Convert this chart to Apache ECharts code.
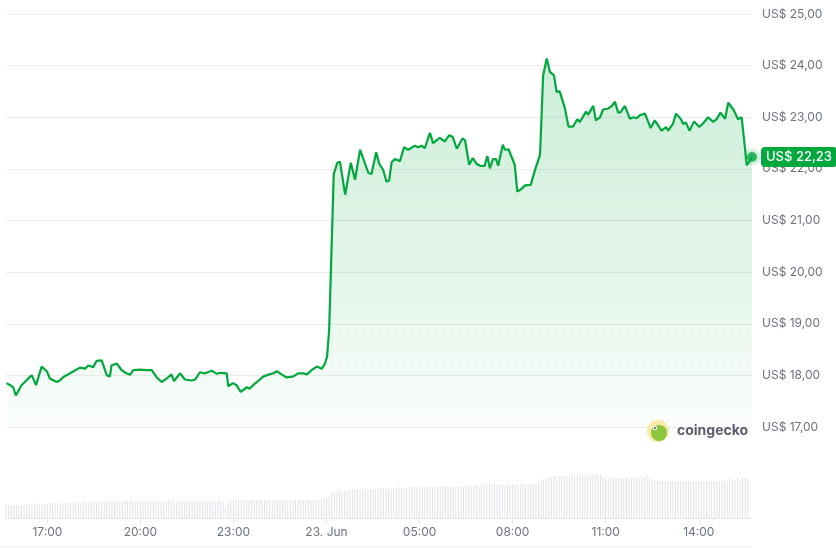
<!DOCTYPE html>
<html>
<head>
<meta charset="utf-8">
<script src="https://cdn.jsdelivr.net/npm/echarts@6/dist/echarts.min.js"></script>
<style>
  html, body { margin: 0; padding: 0; background: #ffffff; }
  #chart { width: 836px; height: 548px; }
</style>
</head>
<body>
<div id="chart"></div>
<script>
// ---- Data ----
const priceTimes = [
  '15:41','15:48','15:54','15:59','16:10','16:26','16:30','16:38','16:49','16:59',
  '17:05','17:18','17:24','17:31','17:44','18:03','18:13','18:19','18:29','18:35',
  '18:45','18:55','19:01','19:04','19:14','19:24','19:33','19:40','19:46','19:59',
  '20:12','20:22','20:31','20:41','20:51','21:00','21:05','21:17','21:26','21:39',
  '21:46','21:55','22:05','22:18','22:28','22:34','22:47','22:50','22:59','23:06',
  '23:14','23:26','23:31','23:38','23:51','23:58','00:04','00:17','00:24','00:33',
  '00:43','00:56','01:05','01:15','01:22','01:31','01:41','01:51','01:57','02:01',
  '02:05','02:12','02:14','02:21','02:26','02:36','02:47','02:55','03:05','03:21',
  '03:27','03:36','03:42','03:50','03:56','04:01','04:06','04:12','04:22','04:30',
  '04:38','04:51','04:57','05:04','05:10','05:20','05:26','05:39','05:49','05:57',
  '06:04','06:12','06:23','06:28','06:36','06:43','06:50','06:57','07:06','07:11',
  '07:16','07:22','07:28','07:32','07:41','07:45','07:52','08:04','08:09','08:17',
  '08:24','08:35','08:43','08:53','08:59','09:06','09:12','09:20','09:25','09:31',
  '09:41','09:48','09:57','10:05','10:10','10:22','10:26','10:36','10:41','10:49',
  '10:55','11:05','11:12','11:18','11:24','11:29','11:37','11:47','11:53','12:00',
  '12:06','12:16','12:27','12:35','12:48','12:57','13:01','13:10','13:16','13:25',
  '13:30','13:35','13:42','13:51','14:01','14:09','14:18','14:28','14:35','14:42',
  '14:51','14:57','15:07','15:16','15:23','15:33','15:43'
];
const priceValues = [
  17.85,17.81,17.77,17.61,17.81,17.97,18.00,17.81,18.17,18.08,
  17.94,17.87,17.90,17.97,18.04,18.15,18.13,18.19,18.16,18.28,
  18.29,18.00,17.98,18.19,18.23,18.10,18.04,18.01,18.10,18.11,
  18.10,18.10,17.97,17.87,17.94,18.02,17.89,18.04,17.92,17.90,
  17.92,18.06,18.04,18.09,18.03,18.05,18.04,17.79,17.85,17.81,
  17.68,17.77,17.74,17.81,17.92,17.98,18.00,18.04,18.08,18.02,
  17.96,17.98,18.04,18.04,18.02,18.10,18.17,18.13,18.23,18.36,
  18.87,21.22,21.90,22.12,22.14,21.50,22.12,21.79,22.37,21.92,
  21.90,22.32,22.10,21.97,21.75,21.77,22.13,22.19,22.15,22.42,
  22.37,22.45,22.42,22.45,22.40,22.70,22.50,22.60,22.53,22.65,
  22.62,22.39,22.59,22.55,22.08,22.21,22.10,22.06,22.06,22.25,
  22.01,22.19,22.19,22.06,22.47,22.37,22.38,22.08,21.56,21.61,
  21.68,21.69,21.97,22.27,23.81,24.14,23.88,23.81,23.49,23.50,
  23.18,22.82,22.82,22.96,22.91,23.11,23.05,23.22,22.94,23.00,
  23.15,23.17,23.22,23.30,23.09,23.10,23.22,22.97,23.00,22.98,
  23.04,23.07,22.79,22.94,22.74,22.81,22.74,22.87,23.07,22.97,
  22.87,22.90,22.74,22.92,22.81,22.89,23.00,22.91,22.97,23.09,
  22.97,23.28,23.15,22.96,23.00,22.07,22.23
];
// relative volume, one bar per 5 minutes starting 22 Jun 15:40
const volumeValues = [
  13,13,13,13,14,13,13,13,14,14,13,14,
  14,15,14,14,14,15,15,15,15,15,14,15,
  15,15,15,15,16,16,16,16,16,16,16,16,
  16,16,17,17,17,17,17,17,17,17,17,17,
  17,17,17,17,17,17,17,17,17,17,17,17,
  17,17,17,18,17,17,17,17,17,17,17,17,
  17,17,17,17,17,17,17,17,17,17,17,17,
  17,10,17,18,18,18,18,18,18,18,18,18,
  18,18,18,18,18,18,18,18,18,18,18,18,
  18,18,18,18,18,18,18,18,18,18,18,18,
  18,18,18,19,20,22,25,26,26,27,27,27,
  28,28,28,29,29,29,29,30,29,29,29,29,
  29,30,30,29,30,29,30,30,31,30,30,30,
  31,31,31,31,32,31,31,31,31,31,31,31,
  31,32,32,31,31,31,32,31,31,31,32,32,
  32,32,33,32,33,33,34,34,33,34,33,34,
  34,33,34,34,34,33,34,34,34,33,34,34,
  34,34,35,37,39,40,41,41,42,41,42,42,
  42,43,42,43,41,43,42,43,43,42,43,43,
  43,43,43,40,40,40,40,40,40,40,40,40,
  40,40,40,40,40,40,40,40,43,40,38,37,
  37,37,37,37,37,37,37,37,37,37,37,37,
  37,37,37,37,37,37,37,37,37,37,37,37,
  37,37,37,38,40,38,38,40,38,40,40,40
];
const xTickTimes = ['17:00','20:00','23:00','02:00','05:00','08:00','11:00','14:00'];
const xTickLabels = ['17:00','20:00','23:00','23. Jun','05:00','08:00','11:00','14:00'];
const yTicks = [17, 18, 19, 20, 21, 22, 23, 24, 25];
const currentPriceLabel = 'US$ 22,23';
const watermark = 'coingecko';

// ---- helpers ----
function toStamps(list) {
  let day = 22, prev = -1;
  return list.map(function (s) {
    const p = s.split(':').map(Number);
    const mins = p[0] * 60 + p[1];
    if (mins < prev) day++;
    prev = mins;
    return Date.UTC(2024, 5, day, p[0], p[1]);
  });
}
const priceStamps = toStamps(priceTimes);
const tickStamps = toStamps(xTickTimes);
const START = Date.UTC(2024, 5, 22, 15, 40);
const END = priceStamps[priceStamps.length - 1];
const FIVE_MIN = 5 * 60 * 1000;
const priceData = priceStamps.map((t, i) => [t, priceValues[i]]);
const volumeData = volumeValues.map((v, i) => [START + i * FIVE_MIN, v]);
const lastPoint = priceData[priceData.length - 1];

const GREEN = '#00a83e';
const FONT = 'Inter, Roboto, sans-serif';
const fmtPrice = v => 'US$ ' + v.toFixed(2).replace('.', ',');

// dotted texture for the area
const dotCanvas = document.createElement('canvas');
dotCanvas.width = 8; dotCanvas.height = 8;
(function () {
  const c = dotCanvas.getContext('2d');
  c.fillStyle = 'rgba(0,150,60,0.07)';
  c.beginPath(); c.arc(4, 4, 1.4, 0, Math.PI * 2); c.fill();
})();

const chart = echarts.init(document.getElementById('chart'), null, { renderer: 'canvas' });
chart.setOption({
  animation: false,
  backgroundColor: '#ffffff',
  textStyle: { fontFamily: FONT },
  grid: [
    { left: 6, right: 84, top: 14, bottom: 121 },
    { left: 6, right: 84, top: 458, bottom: 30 }
  ],
  xAxis: [
    { type: 'value', gridIndex: 0, min: START, max: END, show: false, scale: true },
    {
      type: 'value', gridIndex: 1, min: START, max: END, scale: true,
      axisLine: { show: true, lineStyle: { color: '#e6e8ec', width: 1 } },
      axisTick: { show: true, length: 6, lineStyle: { color: '#e6e8ec' }, customValues: tickStamps },
      axisLabel: {
        customValues: tickStamps,
        color: '#6b7280', fontSize: 12, fontFamily: FONT, margin: 8,
        formatter: function (v) {
          const idx = tickStamps.indexOf(v);
          return idx >= 0 ? xTickLabels[idx] : '';
        }
      },
      splitLine: { show: false }
    }
  ],
  yAxis: [
    {
      type: 'value', gridIndex: 0, position: 'right', min: yTicks[0], max: yTicks[yTicks.length - 1], interval: 1,
      axisLine: { show: false }, axisTick: { show: false },
      axisLabel: { color: '#6b7280', fontSize: 12, fontFamily: FONT, margin: 10, formatter: fmtPrice },
      splitLine: { lineStyle: { color: '#ececec', width: 1 } }
    },
    { type: 'value', gridIndex: 1, min: 0, max: 60, show: false }
  ],
  series: [
    {
      type: 'bar', xAxisIndex: 1, yAxisIndex: 1, data: volumeData,
      barWidth: 1, itemStyle: { color: '#dfe2e8' }, silent: true
    },
    {
      type: 'line', xAxisIndex: 0, yAxisIndex: 0, data: priceData,
      showSymbol: false, symbol: 'none',
      lineStyle: { color: GREEN, width: 2.2 },
      areaStyle: {
        origin: 'start',
        color: new echarts.graphic.LinearGradient(0, 0, 0, 1, [
          { offset: 0, color: 'rgba(0,168,62,0.28)' },
          { offset: 0.6, color: 'rgba(0,168,62,0.15)' },
          { offset: 1, color: 'rgba(0,168,62,0.02)' }
        ])
      },
      endLabel: {
        show: true, distance: 9,
        formatter: () => currentPriceLabel,
        backgroundColor: GREEN, color: '#ffffff',
        fontFamily: FONT, fontSize: 13, fontWeight: 500,
        padding: [4, 5, 3, 5], borderRadius: 4
      },
      z: 3
    },
    {
      type: 'line', xAxisIndex: 0, yAxisIndex: 0, data: priceData,
      showSymbol: false, symbol: 'none', silent: true,
      lineStyle: { width: 0, opacity: 0 },
      areaStyle: { origin: 'start', color: { image: dotCanvas, repeat: 'repeat' } },
      z: 2
    },
    {
      type: 'scatter', xAxisIndex: 0, yAxisIndex: 0, data: [lastPoint],
      symbolSize: 17, itemStyle: { color: 'rgba(0,168,62,0.2)' }, clip: false, silent: true, z: 4
    },
    {
      type: 'scatter', xAxisIndex: 0, yAxisIndex: 0, data: [lastPoint],
      symbolSize: 10, itemStyle: { color: GREEN }, clip: false, silent: true, z: 5
    }
  ],
  graphic: [
    { type: 'circle', shape: { cx: 658, cy: 431, r: 11 }, style: { fill: '#fae9a8' }, z: 10 },
    { type: 'circle', shape: { cx: 659, cy: 433, r: 8 }, style: { fill: '#8cc63f' }, z: 11 },
    { type: 'circle', shape: { cx: 655, cy: 428, r: 2.2 }, style: { fill: '#ffffff' }, z: 12 },
    { type: 'circle', shape: { cx: 655, cy: 428, r: 1 }, style: { fill: '#4a4a4a' }, z: 13 },
    {
      type: 'text', x: 677, y: 431, z: 12,
      style: { text: watermark, fill: '#5b5d6e', font: 'bold 14px ' + FONT, textVerticalAlign: 'middle' }
    },
    { type: 'line', shape: { x1: 0, y1: 546.5, x2: 752, y2: 546.5 }, style: { stroke: '#f2f2f2', lineWidth: 1 }, z: 1 }
  ]
});
</script>
</body>
</html>
